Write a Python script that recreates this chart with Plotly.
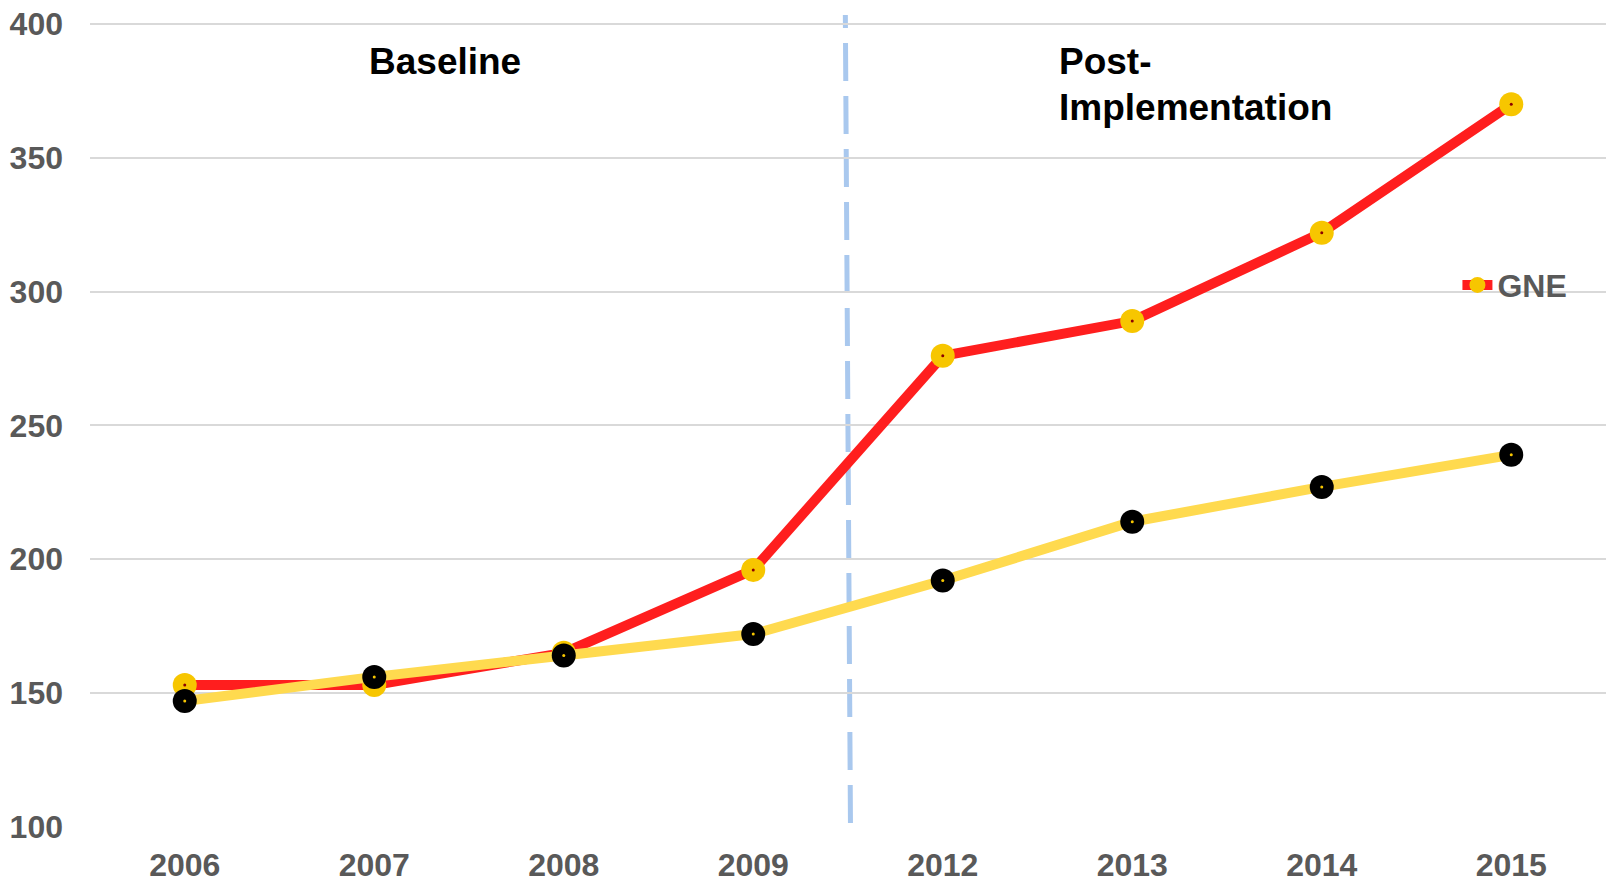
import plotly.graph_objects as go

years = ["2006", "2007", "2008", "2009", "2012", "2013", "2014", "2015"]
gne = [153, 153, 165, 196, 276, 289, 322, 370]
other = [147, 156, 164, 172, 192, 214, 227, 239]
y_ticks = [100, 150, 200, 250, 300, 350, 400]

FONT = "Liberation Sans, Arial, sans-serif"
RED = "#FF1E1E"
YEL_LINE = "#FFDA4F"
YEL_MARK = "#F7C600"

fig = go.Figure()

fig.add_trace(go.Scatter(
    x=years, y=gne, name="GNE", mode="lines+markers",
    line=dict(color=RED, width=10),
    marker=dict(color=YEL_MARK, size=24),
    showlegend=True,
))
fig.add_trace(go.Scatter(
    x=years, y=gne, mode="markers", showlegend=False, hoverinfo="skip",
    marker=dict(color="#8B0000", size=3),
))
fig.add_trace(go.Scatter(
    x=years, y=other, name="Comparison", mode="lines+markers",
    line=dict(color=YEL_LINE, width=10),
    marker=dict(color="#000000", size=24),
    showlegend=False,
))
fig.add_trace(go.Scatter(
    x=years, y=other, mode="markers", showlegend=False, hoverinfo="skip",
    marker=dict(color=YEL_MARK, size=3),
))

fig.add_shape(
    type="line", xref="x", yref="paper",
    x0=3.513, y0=0.005, x1=3.486, y1=1.01,
    line=dict(color="#A9C8EE", width=5, dash="38px,15px"),
    layer="below",
)

ann_font = dict(family=FONT, size=37, color="#000000", weight="bold")
fig.add_annotation(
    x=0.183, y=0.980, xref="paper", yref="paper", xanchor="left", yanchor="top",
    text="Baseline", showarrow=False, align="left", font=ann_font,
)
fig.add_annotation(
    x=0.638, y=0.980, xref="paper", yref="paper", xanchor="left", yanchor="top",
    text="Post-", showarrow=False, align="left", font=ann_font,
)
fig.add_annotation(
    x=0.638, y=0.923, xref="paper", yref="paper", xanchor="left", yanchor="top",
    text="Implementation", showarrow=False, align="left", font=ann_font,
)

tick_font = dict(family=FONT, size=32, color="#595959", weight="bold")
fig.update_layout(
    width=1609, height=882,
    margin=dict(l=90, r=3, t=23, b=55),
    paper_bgcolor="white", plot_bgcolor="white",
    font=tick_font,
    legend=dict(
        x=0.902, y=0.674, xanchor="left", yanchor="middle",
        bgcolor="rgba(0,0,0,0)",
        font=tick_font,
    ),
    xaxis=dict(
        type="category", range=[-0.5, 7.5], automargin=False,
        showgrid=False, zeroline=False, showline=False, ticks="",
        tickfont=tick_font,
        ticklabelstandoff=16,
    ),
    yaxis=dict(
        range=[99.9, 400.4], tickvals=y_ticks, automargin=False,
        showgrid=True, gridcolor="#D9D9D9", gridwidth=2,
        zeroline=False, showline=False, ticks="",
        tickfont=tick_font,
        ticklabelstandoff=26,
    ),
)

fig.write_html(
    "out.html",
    config={"displayModeBar": False},
    post_script="document.body.style.margin='0px';",
)
